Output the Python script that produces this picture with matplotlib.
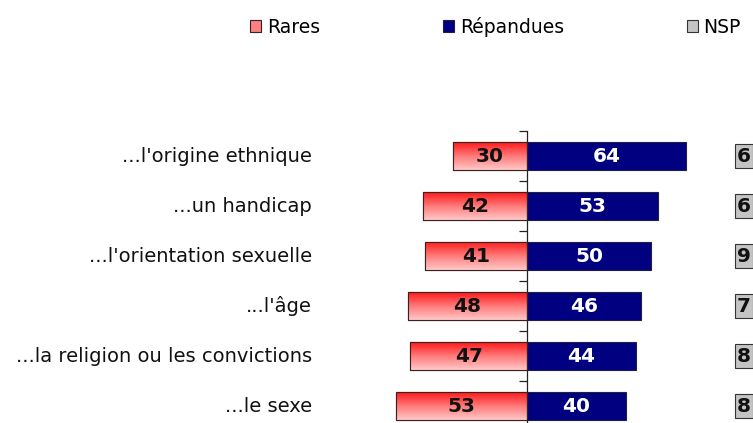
import numpy as np
import matplotlib
matplotlib.use("Agg")
import matplotlib.pyplot as plt
from matplotlib.patches import Patch
from matplotlib.colors import LinearSegmentedColormap

categories = ["...l'origine ethnique", "...un handicap", "...l'orientation sexuelle",
              "...l'âge", "...la religion ou les convictions", "...le sexe"]
rares = [30, 42, 41, 48, 47, 53]
repandues = [64, 53, 50, 46, 44, 40]
nsp = [6, 6, 9, 7, 8, 8]
series_names = ["Rares", "Répandues", "NSP"]

plt.rcParams['font.family'] = ['DejaVu Sans']

W, H = 753, 423
fig = plt.figure(figsize=(W / 100, H / 100), dpi=100)
px_per_unit = 2.48
center_px = 527
x_min = -center_px / px_per_unit
x_max = (W - center_px) / px_per_unit
top_px = 131
row_px = 50
n = len(categories)
ylim_bottom = n - 0.5
ax_h_px = row_px * n
ax = fig.add_axes([0, 1 - (top_px + ax_h_px) / H, 1, ax_h_px / H])
ax.set_xlim(x_min, x_max)
ax.set_ylim(ylim_bottom, -0.5)

y = np.arange(n)
bar_h = 0.56
red_bars = ax.barh(y, [-v for v in rares], height=bar_h, color="#ff6060",
                   edgecolor="#3a2020", linewidth=0.8, zorder=2)
blue_bars = ax.barh(y, repandues, height=bar_h, color="#000080",
                    edgecolor="#202040", linewidth=0.8, zorder=2)

cmap = LinearSegmentedColormap.from_list("redgrad", ["#ff1a1a", "#ff7a7a", "#ffc8c8"])
grad = np.linspace(0, 1, 64).reshape(-1, 1)
for b in red_bars:
    x0 = b.get_x()
    w = b.get_width()
    yc = b.get_y() + b.get_height() / 2
    im = ax.imshow(grad, cmap=cmap, aspect='auto', origin='upper',
                   extent=(x0, x0 + w, yc + bar_h / 2, yc - bar_h / 2), zorder=2.5)
    im.set_clip_path(b)
    ax.add_patch(plt.Rectangle((x0, yc - bar_h / 2), w, bar_h, fill=False,
                               edgecolor="#3a2020", linewidth=0.8, zorder=3))
ax.set_xlim(x_min, x_max)
ax.set_ylim(ylim_bottom, -0.5)

for i in range(n):
    ax.text(-rares[i] / 2, y[i], str(rares[i]), ha='center', va='center',
            fontsize=14.5, fontweight='bold', color='#111111', zorder=4)
    ax.text(repandues[i] / 2, y[i], str(repandues[i]), ha='center', va='center',
            fontsize=14.5, fontweight='bold', color='white', zorder=4)
    ax.text((312 - center_px) / px_per_unit, y[i], categories[i], ha='right', va='center',
            fontsize=14, color='#111111')
    ax.text((744 - center_px) / px_per_unit, y[i], str(nsp[i]), ha='center', va='center',
            fontsize=14.5, fontweight='bold', color='#111111',
            bbox=dict(boxstyle='square,pad=0.1', facecolor='#c4c4c4', edgecolor='#333333', linewidth=0.8))

for s in ['top', 'right', 'bottom']:
    ax.spines[s].set_visible(False)
ax.spines['left'].set_position(('data', 0))
ax.spines['left'].set_color('#222222')
ax.spines['left'].set_linewidth(0.9)
ax.set_yticks(np.arange(-0.5, n - 0.5, 1.0))
ax.set_yticklabels([])
ax.tick_params(axis='y', direction='out', length=6, width=0.9, color='#222222')
ax.set_xticks([])
ax.patch.set_alpha(0)

handles = [Patch(facecolor='#ff8080', edgecolor='#3a2020', linewidth=0.8),
           Patch(facecolor='#000080', edgecolor='#202040', linewidth=0.8),
           Patch(facecolor='#c4c4c4', edgecolor='#333333', linewidth=0.8)]
fig.legend(handles, series_names, loc='center', bbox_to_anchor=(0.658, 1 - 27 / H),
           ncol=3, frameon=False, fontsize=13.5, handlelength=0.6, handleheight=0.6,
           handletextpad=0.3, columnspacing=6.55)

fig.savefig("out.png", dpi=100)
